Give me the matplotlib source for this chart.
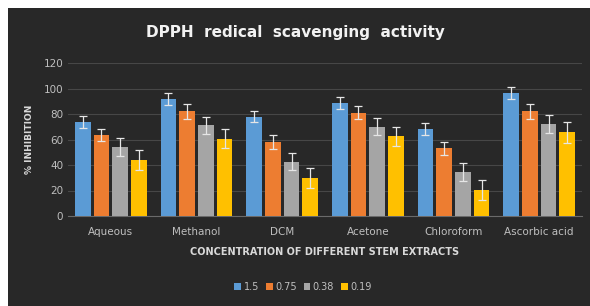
import numpy as np
import matplotlib
matplotlib.use("Agg")
import matplotlib.pyplot as plt
from matplotlib.patches import Rectangle

# data
extracts = ["Aqueous", "Methanol", "DCM", "Acetone", "Chloroform", "Ascorbic acid"]
conc_labels = ["1.5", "0.75", "0.38", "0.19"]
inh_15 = [74, 92, 78, 89, 68, 96.5]
inh_075 = [63.5, 82, 58, 81, 53, 82]
inh_038 = [54, 71, 42.5, 70, 34.5, 72]
inh_019 = [44, 60.5, 30, 62.5, 20.5, 65.5]
err_15 = [4.7, 4.7, 4.5, 4.7, 4.7, 4.7]
err_075 = [5, 6, 5.5, 5, 5, 5.7]
err_038 = [7, 7, 6.7, 6.8, 6.7, 7]
err_019 = [8, 7.5, 8, 7.5, 7.8, 8]

colors = ["#5b9bd5", "#ed7d31", "#a5a5a5", "#ffc000"]
txt_col = "#bfbfbf"

fig = plt.figure(figsize=(5.9, 3.06), dpi=100)
fig.patch.set_facecolor("white")
# dark chart area
fig.patches.append(Rectangle((8 / 590, 0), 1, 1 - 8 / 306, transform=fig.transFigure,
                             facecolor="#282828", edgecolor="none", zorder=-10))

ax = fig.add_axes([68 / 590, 1 - 216 / 306, (582 - 68) / 590, (216 - 63) / 306])
ax.set_facecolor("none")
ax.set_zorder(2)

x = np.arange(len(extracts))
w = 0.18
step = 0.218
series = [inh_15, inh_075, inh_038, inh_019]
errs = [err_15, err_075, err_038, err_019]
for i in range(4):
    ax.bar(x + (i - 1.5) * step, series[i], width=w, color=colors[i],
           yerr=errs[i], ecolor="#e6e6e6", capsize=2.8,
           error_kw=dict(elinewidth=0.9, capthick=0.9),
           label=conc_labels[i], zorder=3)

ax.set_xlim(-0.5, len(extracts) - 0.5)
ax.set_ylim(0, 120)
ax.set_yticks(range(0, 121, 20))
ax.set_xticks(x)
ax.set_xticklabels(extracts)
ax.yaxis.grid(True, color="#474747", linewidth=0.8, zorder=0)
for s in ["top", "right", "left"]:
    ax.spines[s].set_visible(False)
ax.spines["bottom"].set_color("#6a6a6a")
ax.tick_params(length=0, colors=txt_col, labelsize=7.5)
ax.tick_params(axis="x", pad=8)

ax.set_xlabel("CONCENTRATION OF DIFFERENT STEM EXTRACTS", color="#d9d9d9",
              fontsize=7, fontweight="bold", labelpad=7)
ax.set_ylabel("% INHIBITION", color="#d9d9d9", fontsize=6.5, fontweight="bold",
              labelpad=7)

fig.text(0.5, 1 - 33 / 306, "DPPH  redical  scavenging  activity", color="#f2f2f2",
         fontsize=11, fontweight="bold", ha="center", va="center")

leg = fig.legend(loc="center", bbox_to_anchor=(303 / 590, 1 - 287 / 306), ncol=4,
                 frameon=False, fontsize=7, handlelength=0.7, handleheight=0.7,
                 handletextpad=0.25, columnspacing=0.7)
for t in leg.get_texts():
    t.set_color(txt_col)

fig.savefig("out.png", dpi=100, facecolor=fig.get_facecolor())
